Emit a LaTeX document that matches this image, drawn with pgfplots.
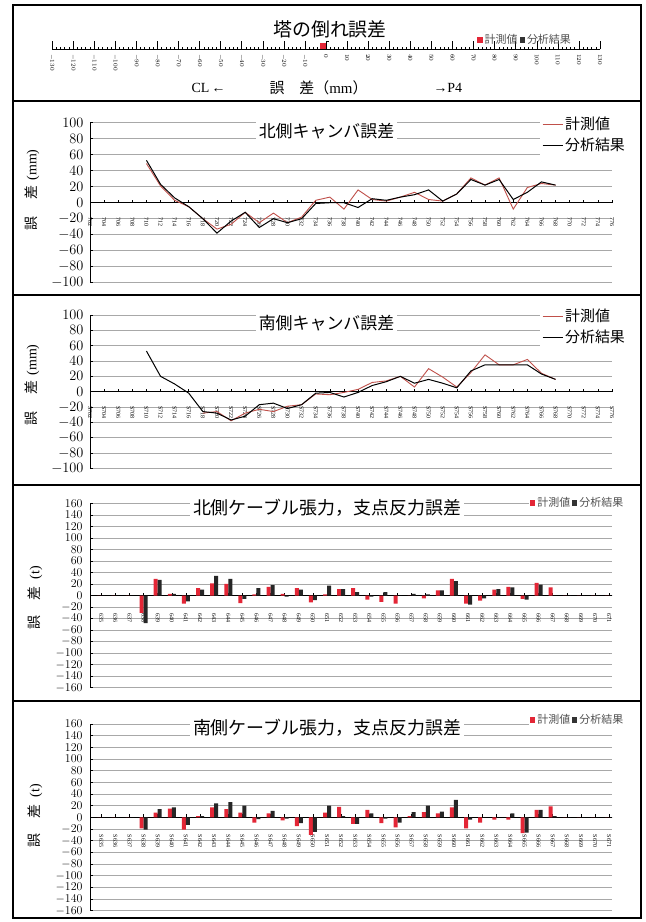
\documentclass[border=0pt]{standalone}
\usepackage{pgfplots}
\pgfplotsset{compat=1.18}
\usepackage{fontspec}
\setmainfont{Liberation Serif}
\newfontfamily\jp{Noto Sans CJK JP}
\definecolor{measline}{HTML}{C0504A}
\definecolor{barred}{HTML}{E32636}
\definecolor{gridc}{HTML}{A8A8A8}
\definecolor{legtxt}{HTML}{505050}

\pgfplotsset{
  common/.style={
    scale only axis, width=522bp, anchor=south west,
    axis x line=middle, axis y line=left, axis line style={-},
    x axis line style={line width=1.3bp},
    y axis line style={line width=0.9bp},
    hide obscured x ticks=false, hide obscured y ticks=false,
    ymajorgrids, major grid style={gridc, line width=0.6bp},
    major tick length=3bp,
    tick style={black, line width=0.6bp},
    tick align=inside,
    xticklabel style={rotate=-90, anchor=west, font=\fontsize{6}{6}\selectfont, text=black},
    clip=false,
  },
  camber/.style={common,
    xmin=0, xmax=37, ymin=-100, ymax=100,
    ytick={-100,-80,...,100}, xtick={0,...,37},
    yticklabel style={font=\fontsize{15}{15}\selectfont, xshift=-3bp},
    xticklabel shift=11bp,
    legend style={draw=none, fill=white, inner sep=2bp, font=\jp\fontsize{15}{15}\selectfont,
      row sep=3bp},
    legend cell align=left,
  },
  cable/.style={common,
    xmin=-0.8, xmax=36.2, ymin=-160, ymax=160,
    ytick={-160,-140,...,160}, xtick={0,...,36},
    yticklabel style={font=\fontsize{13}{13}\selectfont, xshift=-4bp},
    xticklabel shift=14bp,
    legend style={draw=none, fill=white, inner sep=1bp, font=\jp\fontsize{11}{11}\selectfont,
      text=legtxt, anchor=west},
    legend columns=2, legend cell align=left,
  },
  lineleg/.style={legend image code/.code={\draw[#1] (0bp,0bp) -- (20bp,0bp);}},
  redbar/.style={ybar, bar width=4bp, bar shift=-2bp, fill=barred, draw=none,
    legend image code/.code={\fill[barred] (0bp,-2.6bp) rectangle (5.2bp,2.6bp);}},
  blackbar/.style={ybar, bar width=4bp, bar shift=2bp, fill=black!85, draw=none,
    legend image code/.code={\fill[black!80] (0bp,-2.6bp) rectangle (5.2bp,2.6bp);}},
}

\begin{document}
\begin{tikzpicture}
\path[use as bounding box] (0,0) rectangle (646bp,-922bp);
\fill[white] (0,0) rectangle (646bp,-922bp);

% ---------------- Panel 1 : tower tilt ----------------
\begin{axis}[at={(52bp,-49bp)}, anchor=south west, scale only axis, width=548bp, height=20bp,
  xmin=-130, xmax=130, ymin=0, ymax=1,
  axis x line=bottom, axis y line=none, axis line style={-, line width=0.9bp},
  xtick={-130,-120,...,130}, minor x tick num=4,
  xtick align=inside, major tick length=8bp, minor tick length=2.5bp,
  tick style={black, line width=0.5bp},
  xticklabel style={rotate=-90, anchor=west, font=\fontsize{6.5}{6.5}\selectfont, text=black},
  xticklabel shift=1.5bp, clip=false,
  legend style={at={(rel axis cs:0.774,0.45)}, anchor=west, draw=none, fill=none, inner sep=1bp,
    font=\jp\fontsize{11}{11}\selectfont, text=legtxt},
  legend columns=2]
\addplot[xbar, bar width=6bp, bar shift=0pt, fill=barred, draw=none,
  legend image code/.code={\fill[barred] (0bp,-2.7bp) rectangle (5.4bp,2.7bp);}] coordinates {(-3,0.15)};
\addlegendentry{計測値}
\addplot[xbar, bar width=1.6bp, bar shift=0pt, fill=black, draw=none,
  legend image code/.code={\fill[black!80] (0bp,-2.7bp) rectangle (5.4bp,2.7bp);}] coordinates {(1.5,0.38)};
\addlegendentry{分析結果}
\end{axis}
\node[font=\jp\fontsize{19}{19}\selectfont] at (330bp,-29bp) {塔の倒れ誤差};
\node[font=\fontsize{14}{14}\selectfont, anchor=west] at (188bp,-88bp) {CL\,←};
\node[font=\jp\fontsize{15}{15}\selectfont, anchor=west] at (266bp,-88bp) {誤\hspace{1em}差（\rmfamily mm\jp）};
\node[font=\fontsize{14}{14}\selectfont, anchor=west] at (430bp,-88bp) {→P4};

% ---------------- Panel 2 : north camber ----------------
\begin{axis}[camber, at={(90bp,-282.7bp)}, height=160bp,
  xticklabels={702,704,706,708,710,712,714,716,718,720,722,724,726,728,730,732,734,736,738,740,742,744,746,748,750,752,754,756,758,760,762,764,766,768,770,772,774,776},
  legend style={at={(rel axis cs:0.862,1.06)}, anchor=north west}]
\addplot[measline, line width=0.9bp, lineleg] coordinates {(4,49)(5,21)(6,3)(7,-5)(8,-20)(9,-33)(10,-27)(11,-12)(12,-25)(13,-13)(14,-25)(15,-18)(16,3)(17,7)(18,-8)(19,16)(20,4)(21,2)(22,7)(23,13)(24,4)(25,2)(26,11)(27,31)(28,22)(29,31)(30,-8)(31,19)(32,24)(33,22)};
\addlegendentry{計測値}
\addplot[black, line width=1bp, lineleg] coordinates {(4,53)(5,23)(6,6)(7,-5)(8,-20)(9,-38)(10,-23)(11,-12)(12,-31)(13,-20)(14,-25)(15,-20)(16,-1)(17,0)(18,0)(19,-6)(20,5)(21,3)(22,7)(23,10)(24,16)(25,2)(26,11)(27,29)(28,22)(29,29)(30,4)(31,13)(32,26)(33,22)};
\addlegendentry{分析結果}
\end{axis}
\node[fill=white, inner xsep=3bp, inner ysep=2bp, font=\jp\fontsize{17}{17}\selectfont] at (326.5bp,-131bp) {北側キャンバ誤差};
\node[rotate=90, font=\fontsize{14}{14}\selectfont] at (32bp,-190bp) {\jp 誤\hspace{1.2em}差\hspace{0.4em}\rmfamily(mm)};

% ---------------- Panel 3 : south camber ----------------
\begin{axis}[camber, at={(90bp,-468.3bp)}, height=153.3bp,
  xticklabels={S702,S704,S706,S708,S710,S712,S714,S716,S718,S720,S722,S724,S726,S728,S730,S732,S734,S736,S738,S740,S742,S744,S746,S748,S750,S752,S754,S756,S758,S760,S762,S764,S766,S768,S770,S772,S774,S776},
  legend style={at={(rel axis cs:0.862,1.065)}, anchor=north west}]
\addplot[measline, line width=0.9bp, lineleg] coordinates {(8,-28)(9,-26)(10,-38)(11,-28)(12,-23)(13,-26)(14,-19)(15,-17)(16,-3)(17,-4)(18,-1)(19,3)(20,12)(21,14)(22,20)(23,6)(24,30)(25,19)(26,6)(27,25)(28,48)(29,35)(30,35)(31,42)(32,24)(33,16)};
\addlegendentry{計測値}
\addplot[black, line width=1bp, lineleg] coordinates {(4,53)(5,20)(6,10)(7,-2)(8,-26)(9,-28)(10,-37)(11,-32)(12,-17)(13,-15)(14,-22)(15,-17)(16,-2)(17,-1)(18,-7)(19,-1)(20,8)(21,13)(22,20)(23,11)(24,16)(25,11)(26,5)(27,27)(28,35)(29,35)(30,35)(31,35)(32,23)(33,16)};
\addlegendentry{分析結果}
\end{axis}
\node[fill=white, inner xsep=3bp, inner ysep=2bp, font=\jp\fontsize{17}{17}\selectfont] at (326.5bp,-323bp) {南側キャンバ誤差};
\node[rotate=90, font=\fontsize{14}{14}\selectfont] at (32bp,-385bp) {\jp 誤\hspace{1.2em}差\hspace{0.4em}\rmfamily(mm)};

% ---------------- Panel 4 : north cable ----------------
\begin{axis}[cable, at={(90bp,-687.7bp)}, height=184.4bp,
  xticklabels={635,636,637,638,639,640,641,642,643,644,645,646,647,648,649,650,651,652,653,654,655,656,657,658,659,660,661,662,663,664,665,666,667,668,669,670,671},
  legend style={at={(rel axis cs:0.841,1.002)}}]
\addplot[redbar] coordinates {(0,0)(1,0)(2,0)(3,-30)(4,29)(5,3)(6,-14)(7,13)(8,21)(9,20)(10,-13)(11,2)(12,15)(13,3)(14,13)(15,-12)(16,2)(17,11)(18,13)(19,-7)(20,-11)(21,-14)(22,0)(23,-5)(24,9)(25,29)(26,-14)(27,-9)(28,10)(29,15)(30,-6)(31,22)(32,14)(33,0)(34,0)(35,0)(36,0)};
\addlegendentry{計測値}
\addplot[blackbar] coordinates {(0,0)(1,0)(2,0)(3,-48)(4,27)(5,3)(6,-10)(7,10)(8,34)(9,29)(10,-6)(11,13)(12,18)(13,-2)(14,10)(15,-8)(16,17)(17,11)(18,6)(19,-2)(20,6)(21,0)(22,3)(23,2)(24,9)(25,25)(26,-16)(27,-5)(28,11)(29,14)(30,-7)(31,19)(32,0)(33,0)(34,0)(35,0)(36,0)};
\addlegendentry{分析結果}
\end{axis}
\node[fill=white, inner xsep=3bp, inner ysep=0bp, font=\jp\fontsize{18}{18}\selectfont] at (327bp,-508bp) {北側ケーブル張力，支点反力誤差};
\node[rotate=90, font=\fontsize{14}{14}\selectfont] at (35bp,-598bp) {\jp 誤\hspace{1.1em}差\hspace{0.5em}\rmfamily(t)};

% ---------------- Panel 5 : south cable ----------------
\begin{axis}[cable, at={(90bp,-910.7bp)}, height=186.7bp,
  xticklabels={S635,S636,S637,S638,S639,S640,S641,S642,S643,S644,S645,S646,S647,S648,S649,S650,S651,S652,S653,S654,S655,S656,S657,S658,S659,S660,S661,S662,S663,S664,S665,S666,S667,S668,S669,S670,S671},
  legend style={at={(rel axis cs:0.841,1.021)}}]
\addplot[redbar] coordinates {(0,0)(1,0)(2,0)(3,-19)(4,8)(5,15)(6,-21)(7,2)(8,17)(9,14)(10,8)(11,-9)(12,7)(13,-5)(14,-15)(15,-30)(16,8)(17,18)(18,-11)(19,13)(20,-10)(21,-17)(22,2)(23,9)(24,7)(25,17)(26,-19)(27,-9)(28,-4)(29,-4)(30,-27)(31,13)(32,19)(33,0)(34,0)(35,0)(36,0)};
\addlegendentry{計測値}
\addplot[blackbar] coordinates {(0,0)(1,0)(2,0)(3,-21)(4,14)(5,17)(6,-13)(7,2)(8,24)(9,26)(10,20)(11,-3)(12,11)(13,-2)(14,-10)(15,-25)(16,20)(17,2)(18,-11)(19,7)(20,-2)(21,-9)(22,9)(23,20)(24,10)(25,30)(26,-4)(27,0)(28,0)(29,7)(30,-26)(31,13)(32,2)(33,0)(34,0)(35,0)(36,0)};
\addlegendentry{分析結果}
\end{axis}
\node[fill=white, inner xsep=3bp, inner ysep=0bp, font=\jp\fontsize{18}{18}\selectfont] at (327bp,-728bp) {南側ケーブル張力，支点反力誤差};
\node[rotate=90, font=\fontsize{14}{14}\selectfont] at (35bp,-816bp) {\jp 誤\hspace{1.1em}差\hspace{0.5em}\rmfamily(t)};

% ---------------- frames ----------------
\draw[line width=1.4bp] (13bp,-5bp) rectangle (641bp,-918bp);
\draw[line width=1.4bp] (13bp,-101bp) -- (641bp,-101bp);
\draw[line width=1.4bp] (13bp,-295bp) -- (641bp,-295bp);
\draw[line width=1.4bp] (13bp,-485bp) -- (641bp,-485bp);
\draw[line width=1.4bp] (13bp,-701bp) -- (641bp,-701bp);
\end{tikzpicture}
\end{document}
